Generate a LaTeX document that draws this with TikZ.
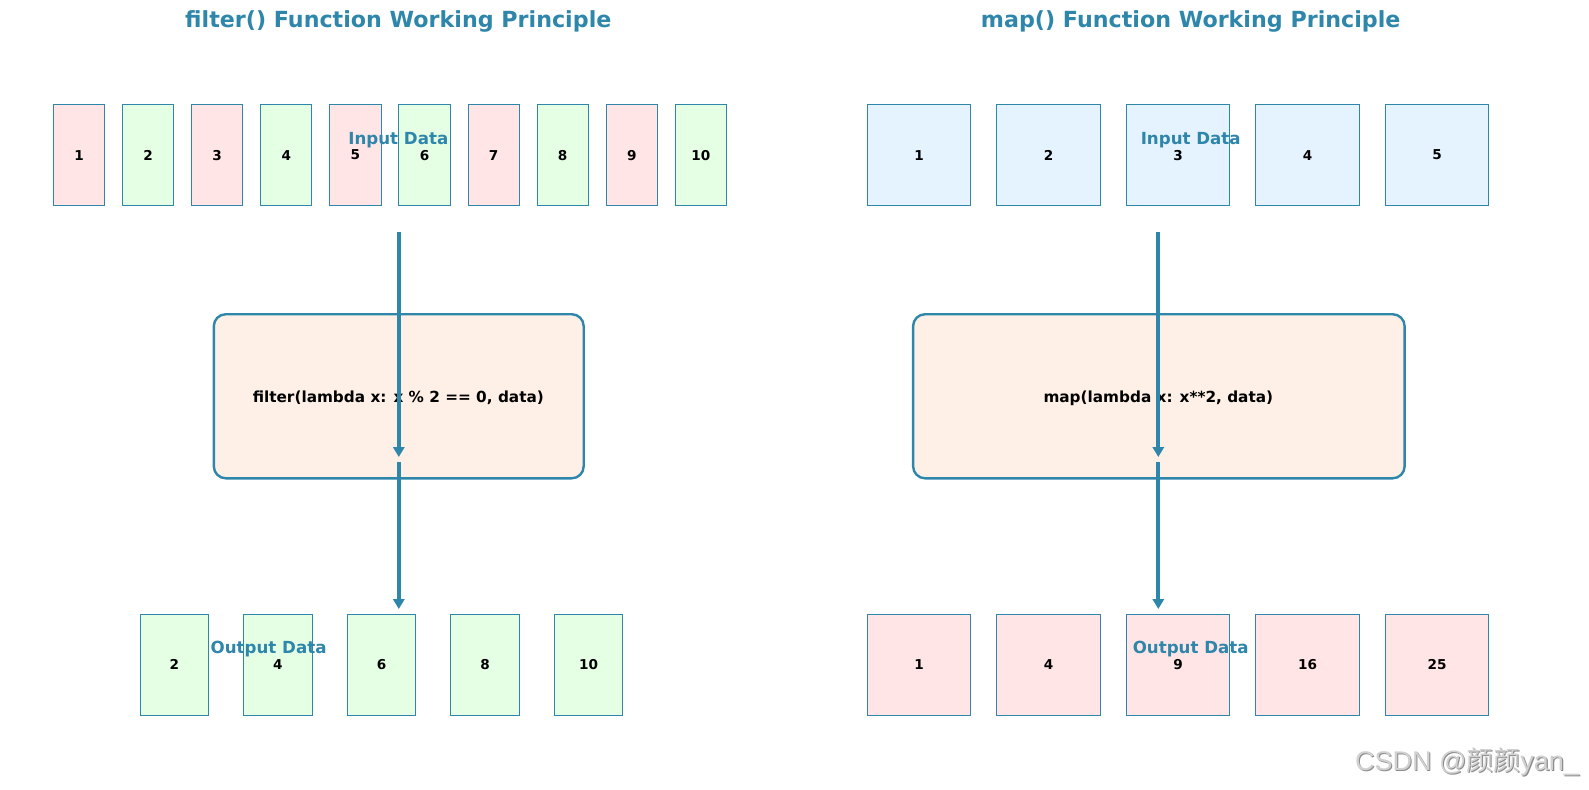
\documentclass[tikz,border=0pt]{standalone}
\usepackage{fontspec}
\setmainfont{DejaVu Sans}
\newfontfamily\wmlat{Liberation Sans}
\newfontfamily\wmcjk{Noto Sans CJK SC}
\usetikzlibrary{arrows.meta}
\definecolor{edgeblue}{HTML}{2E86AB}
\definecolor{pinkfill}{RGB}{255,229,229}
\definecolor{greenfill}{RGB}{229,255,229}
\definecolor{bluefill}{RGB}{229,242,255}
\definecolor{peachfill}{RGB}{254,240,230}
\tikzset{
  titletext/.style={text=edgeblue, font=\fontsize{11.1pt}{13pt}\selectfont\bfseries, inner sep=0pt},
  labeltext/.style={text=edgeblue, font=\fontsize{8.33pt}{10pt}\selectfont\bfseries, inner sep=0pt},
  cell/.style={draw=edgeblue, line width=0.5pt, inner sep=0pt, font=\fontsize{6.8pt}{8pt}\selectfont\bfseries, minimum height=50.65pt},
  narrowcell/.style={cell, minimum width=25.6pt},
  midcell/.style={cell, minimum width=34.2pt},
  widecell/.style={cell, minimum width=51.7pt},
  procbox/.style={draw=edgeblue, fill=peachfill, line width=1.2pt, rounded corners=6pt, inner sep=0pt, font=\fontsize{7.64pt}{9pt}\selectfont\bfseries},
  flow/.style={draw=edgeblue, line width=1.9pt, -{Triangle[length=5pt,width=5.6pt]}},
}
\begin{document}
\begin{tikzpicture}[x=0.5pt,y=-0.5pt]
\useasboundingbox (0,0) rectangle (1589,789);
% titles
\node[titletext] (t1) at (398.3,21.6) {filter() Function Working Principle};
\node[titletext] (t2) at (1190.7,21.6) {map() Function Working Principle};
% filter input
\foreach \i in {1,...,10}{
  \pgfmathsetmacro{\cx}{79.0+(\i-1)*69.1}
  \pgfmathtruncatemacro{\odd}{mod(\i,2)}
  \ifnum\odd=1
    \node[narrowcell, fill=pinkfill] (fin\i) at (\cx,155.05) {\i};
  \else
    \node[narrowcell, fill=greenfill] (fin\i) at (\cx,155.05) {\i};
  \fi
}
\node[labeltext] (fil1) at (398.3,139.8) {Input Data};
% filter process
\node[procbox, minimum width=184.95pt, minimum height=82.05pt] (fproc) at (398.75,396.25) {};
\node[inner sep=0pt, font=\fontsize{7.64pt}{9pt}\selectfont\bfseries] (fproctext) at (398.3,398.2) {filter(lambda x: x \% 2 == 0, data)};
% filter output
\foreach \v [count=\j] in {2,4,6,8,10}{
  \pgfmathsetmacro{\cx}{174.3+(\j-1)*103.6}
  \node[midcell, fill=greenfill] (fout\j) at (\cx,664.8) {\v};
}
\node[labeltext] (fol1) at (268.6,649.3) {Output Data};
% filter arrows
\coordinate (fa1) at (398.8,232);
\coordinate (fa2) at (398.8,457);
\coordinate (fa3) at (398.8,462);
\coordinate (fa4) at (398.8,609);
\draw[flow] (fa1) -- (fa2);
\draw[flow] (fa3) -- (fa4);
% map input
\foreach \i in {1,...,5}{
  \pgfmathsetmacro{\cx}{919.1+(\i-1)*129.5}
  \node[widecell, fill=bluefill] (min\i) at (\cx,155.05) {\i};
}
\node[labeltext] (mil1) at (1190.7,139.8) {Input Data};
% map process
\node[procbox, minimum width=245.75pt, minimum height=82.05pt] (mproc) at (1158.85,396.25) {};
\node[inner sep=0pt, font=\fontsize{7.64pt}{9pt}\selectfont\bfseries] (mproctext) at (1158.3,398.2) {map(lambda x: x**2, data)};
% map output
\foreach \v [count=\j] in {1,4,9,16,25}{
  \pgfmathsetmacro{\cx}{919.1+(\j-1)*129.5}
  \node[widecell, fill=pinkfill] (mout\j) at (\cx,664.8) {\v};
}
\node[labeltext] (mol1) at (1190.7,649.3) {Output Data};
% map arrows
\coordinate (ma1) at (1158.3,232);
\coordinate (ma2) at (1158.3,457);
\coordinate (ma3) at (1158.3,462);
\coordinate (ma4) at (1158.3,609);
\draw[flow] (ma1) -- (ma2);
\draw[flow] (ma3) -- (ma4);
% watermark
\node[inner sep=0pt, text=black!45, font=\fontsize{13.5pt}{15pt}\selectfont] (wms) at (1468.2,763.2) {\wmlat CSDN @{\wmcjk 颜颜}yan\_};
\node[inner sep=0pt, text=black!18, font=\fontsize{13.5pt}{15pt}\selectfont] (wm) at (1467,762) {\wmlat CSDN @{\wmcjk 颜颜}yan\_};
\end{tikzpicture}
\end{document}
